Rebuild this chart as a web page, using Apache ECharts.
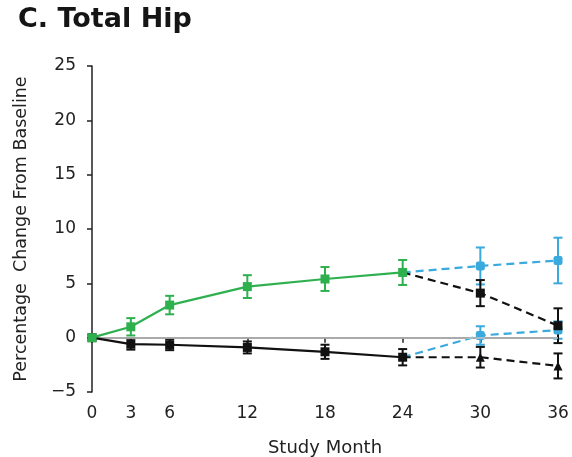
<!DOCTYPE html>
<html>
<head>
<meta charset="utf-8">
<script src="https://cdn.jsdelivr.net/npm/echarts@6/dist/echarts.min.js"></script>
<style>
  html, body { margin: 0; padding: 0; background: #fff; }
  #chart { width: 572px; height: 457px; }
</style>
</head>
<body>
<div id="chart"></div>
<script>
// Study months shown on the x axis
var monthTicks = [0, 3, 6, 12, 18, 24, 30, 36];

// Years 1-2 (solid lines)
var mainMonths = [0, 3, 6, 12, 18, 24];
var greenMain = [0, 1.0, 3.0, 4.7, 5.4, 6.0];
var greenMainErr = [0, 0.8, 0.85, 1.05, 1.1, 1.15];
var blackMain = [0, -0.6, -0.65, -0.9, -1.3, -1.8];
var blackMainErr = [0, 0.5, 0.5, 0.55, 0.65, 0.75];

// Year 3 crossover (dashed lines), starting from month 24
var extMonths = [24, 30, 36];
var blueUpper = [6.0, 6.6, 7.1];
var blueUpperErr = [0, 1.7, 2.1];
var blackUpper = [6.0, 4.1, 1.1];
var blackUpperErr = [0, 1.2, 1.6];
var blueLower = [-1.8, 0.2, 0.7];
var blueLowerErr = [0, 0.85, 0.8];
var blackLower = [-1.8, -1.8, -2.6];
var blackLowerErr = [0, 0.95, 1.15];

var GREEN = '#2eb04f';
var BLUE = '#3aa9dd';
var BLACK = '#111111';
var FONT = 'DejaVu Sans';

function pairs(xs, ys) {
  return xs.map(function (x, i) { return [x, ys[i]]; });
}

// Dashed series: the month-24 start point is already marked by the solid series
function extPairs(xs, ys) {
  return xs.map(function (x, i) {
    return i === 0 ? { value: [x, ys[i]], symbolSize: 0 } : [x, ys[i]];
  });
}

function errTriples(xs, ys, es) {
  var out = [];
  xs.forEach(function (x, i) { if (es[i] > 0) out.push([x, ys[i], es[i]]); });
  return out;
}

function errorBars(xs, ys, es, color) {
  return {
    type: 'custom',
    z: 3,
    silent: true,
    data: errTriples(xs, ys, es),
    renderItem: function (params, api) {
      var x = api.value(0), y = api.value(1), e = api.value(2);
      var top = api.coord([x, y + e]);
      var bot = api.coord([x, y - e]);
      var cap = 4.5;
      var style = { stroke: color, lineWidth: 2 };
      return {
        type: 'group',
        children: [
          { type: 'line', shape: { x1: top[0], y1: top[1], x2: bot[0], y2: bot[1] }, style: style },
          { type: 'line', shape: { x1: top[0] - cap, y1: top[1], x2: top[0] + cap, y2: top[1] }, style: style },
          { type: 'line', shape: { x1: bot[0] - cap, y1: bot[1], x2: bot[0] + cap, y2: bot[1] }, style: style }
        ]
      };
    }
  };
}

function lineSeries(data, color, dashed, symbol, z) {
  return {
    type: 'line',
    data: data,
    z: z,
    symbol: symbol,
    symbolSize: 9,
    showSymbol: true,
    itemStyle: { color: color },
    lineStyle: { color: color, width: 2.2, type: dashed ? [8, 5] : 'solid' },
    emphasis: { disabled: true },
    animation: false
  };
}

function minusSign(v) {
  return String(v).replace('-', '\u2212');
}

var chart = echarts.init(document.getElementById('chart'), null, { renderer: 'canvas' });

chart.setOption({
  animation: false,
  backgroundColor: '#ffffff',
  title: {
    text: 'C. Total Hip',
    left: 13,
    top: 1,
    textStyle: { fontFamily: FONT, fontWeight: 'bold', fontSize: 27, color: '#151515' }
  },
  grid: { left: 92, right: 14, top: 66, bottom: 65, containLabel: false, outerBoundsMode: 'none' },
  xAxis: {
    type: 'value',
    min: 0,
    max: 36,
    name: 'Study Month',
    nameLocation: 'middle',
    nameGap: 47,
    nameTextStyle: { fontFamily: FONT, fontSize: 18, color: '#222' },
    axisLine: { lineStyle: { color: '#222', width: 1.5 } },
    axisTick: { show: true, inside: false, length: 5, customValues: monthTicks, lineStyle: { color: '#222', width: 1.5 } },
    axisLabel: { customValues: monthTicks, margin: 13, fontFamily: FONT, fontSize: 17, color: '#222' },
    splitLine: { show: false }
  },
  yAxis: {
    type: 'value',
    min: -5,
    max: 25,
    interval: 5,
    name: 'Percentage  Change From Baseline',
    nameLocation: 'middle',
    nameGap: 62,
    nameTextStyle: { fontFamily: FONT, fontSize: 17.5, color: '#222' },
    axisLine: { show: true, lineStyle: { color: '#222', width: 1.5 } },
    axisTick: { show: true, inside: false, length: 5, lineStyle: { color: '#222', width: 1.5 } },
    axisLabel: { margin: 16, fontFamily: FONT, fontSize: 17, color: '#222', formatter: minusSign },
    splitLine: { show: false }
  },
  series: [
    // baseline reference at 0%
    {
      type: 'line',
      data: [],
      z: 1,
      markLine: {
        silent: true,
        symbol: 'none',
        label: { show: false },
        lineStyle: { color: '#c6c6c6', width: 1.5, type: 'solid' },
        data: [{ yAxis: 0 }],
        animation: false
      }
    },
    lineSeries(extPairs(extMonths, blueUpper), BLUE, true, 'roundRect', 4),
    lineSeries(extPairs(extMonths, blueLower), BLUE, true, 'roundRect', 4),
    lineSeries(extPairs(extMonths, blackUpper), BLACK, true, 'rect', 4),
    lineSeries(extPairs(extMonths, blackLower), BLACK, true, 'triangle', 4),
    lineSeries(pairs(mainMonths, blackMain), BLACK, false, 'rect', 5),
    lineSeries(pairs(mainMonths, greenMain), GREEN, false, 'rect', 6),
    errorBars(extMonths, blueUpper, blueUpperErr, BLUE),
    errorBars(extMonths, blueLower, blueLowerErr, BLUE),
    errorBars(extMonths, blackUpper, blackUpperErr, BLACK),
    errorBars(extMonths, blackLower, blackLowerErr, BLACK),
    errorBars(mainMonths, blackMain, blackMainErr, BLACK),
    errorBars(mainMonths, greenMain, greenMainErr, GREEN)
  ]
});
</script>
</body>
</html>
